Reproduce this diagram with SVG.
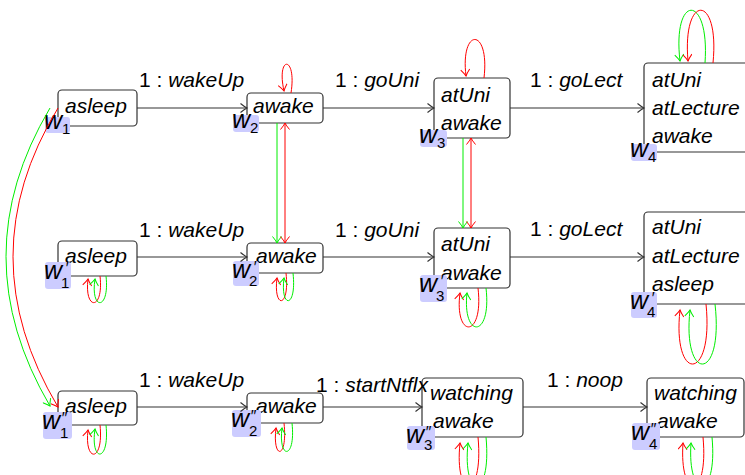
<svg xmlns="http://www.w3.org/2000/svg" width="745" height="475" viewBox="0 0 745 475">
<style>
.box{fill:#fff;stroke:#333;stroke-width:1.2}
.t{font-family:"Liberation Sans",Arial,sans-serif;font-size:21px;fill:#000}
.i{font-style:italic}
.bd{fill:#ccccff;stroke:none}
.w{font-family:"Liberation Sans",Arial,sans-serif;font-size:25px;font-style:italic;fill:#000}
.s{font-family:"Liberation Sans",Arial,sans-serif;font-size:15px;fill:#000}
.p{font-family:"Liberation Sans",Arial,sans-serif;font-size:16px;font-style:italic;fill:#000}
.k{fill:none;stroke:#333;stroke-width:1.1;marker-end:url(#ak)}
.r{fill:none;stroke:#ff0000;stroke-width:1;marker-end:url(#ar)}
.rr{fill:none;stroke:#ff0000;stroke-width:1;marker-end:url(#ar);marker-start:url(#ar)}
.g{fill:none;stroke:#00ee00;stroke-width:1;marker-end:url(#ag)}
</style>
<defs>
<marker id="ak" viewBox="-8 -5 10 10" refX="0" refY="0" markerWidth="10" markerHeight="10" markerUnits="userSpaceOnUse" orient="auto-start-reverse"><path d="M-6.5,-4.5 Q-2.5,-1.2 0,0 Q-2.5,1.2 -6.5,4.5" fill="none" stroke="#333" stroke-width="1.1"/></marker>
<marker id="ar" viewBox="-8 -5 10 10" refX="0" refY="0" markerWidth="10" markerHeight="10" markerUnits="userSpaceOnUse" orient="auto-start-reverse"><path d="M-6.5,-4.5 Q-2.5,-1.2 0,0 Q-2.5,1.2 -6.5,4.5" fill="none" stroke="#ff0000" stroke-width="1"/></marker>
<marker id="ag" viewBox="-8 -5 10 10" refX="0" refY="0" markerWidth="10" markerHeight="10" markerUnits="userSpaceOnUse" orient="auto-start-reverse"><path d="M-6.5,-4.5 Q-2.5,-1.2 0,0 Q-2.5,1.2 -6.5,4.5" fill="none" stroke="#00ee00" stroke-width="1"/></marker>
</defs>
<rect width="745" height="475" fill="#fff"/>

<g id="w1">
<rect class="box" x="58" y="90" width="79" height="36" rx="4"/>
<text class="t i" x="65" y="113">asleep</text>
<rect class="bd" x="45" y="117" width="25" height="16" rx="3"/>
<text class="w" x="44" y="129">w</text><text class="s" x="62" y="134">1</text>
</g>
<g id="w2">
<rect class="box" x="247" y="93" width="76" height="30" rx="4"/>
<text class="t i" x="253" y="113">awake</text>
<rect class="bd" x="233" y="115" width="26" height="17" rx="3"/>
<text class="w" x="232" y="128">w</text><text class="s" x="250" y="133">2</text>
</g>
<g id="w3">
<rect class="box" x="434" y="78" width="76" height="60" rx="4"/>
<text class="t i" x="441" y="102">atUni</text>
<text class="t i" x="441" y="130">awake</text>
<rect class="bd" x="420" y="130" width="27" height="17" rx="3"/>
<text class="w" x="419" y="143">w</text><text class="s" x="437" y="148">3</text>
</g>
<g id="w4">
<rect class="box" x="644" y="63" width="120" height="89" rx="4"/>
<text class="t i" x="652" y="87">atUni</text>
<text class="t i" x="652" y="115">atLecture</text>
<text class="t i" x="652" y="143">awake</text>
<rect class="bd" x="631" y="144" width="26" height="17" rx="3"/>
<text class="w" x="630" y="157">w</text><text class="s" x="648" y="162">4</text>
</g>

<g id="w1p">
<rect class="box" x="58" y="241" width="79" height="35" rx="4"/>
<text class="t i" x="65" y="263">asleep</text>
<rect class="bd" x="45" y="262" width="26" height="27" rx="3"/>
<text class="w" x="44" y="279">w</text><text class="p" x="65" y="274">′</text><text class="s" x="61" y="288">1</text>
</g>
<g id="w2p">
<rect class="box" x="247" y="243" width="76" height="30" rx="4"/>
<text class="t i" x="256" y="263">awake</text>
<rect class="bd" x="233" y="261" width="26" height="25" rx="3"/>
<text class="w" x="232" y="278">w</text><text class="p" x="253" y="273">′</text><text class="s" x="249" y="286">2</text>
</g>
<g id="w3p">
<rect class="box" x="434" y="228" width="76" height="60" rx="4"/>
<text class="t i" x="441" y="251">atUni</text>
<text class="t i" x="441" y="280">awake</text>
<rect class="bd" x="420" y="275" width="27" height="27" rx="3"/>
<text class="w" x="419" y="292">w</text><text class="p" x="440" y="287">′</text><text class="s" x="436" y="301">3</text>
</g>
<g id="w4p">
<rect class="box" x="644" y="212" width="120" height="92" rx="4"/>
<text class="t i" x="652" y="234">atUni</text>
<text class="t i" x="652" y="263">atLecture</text>
<text class="t i" x="652" y="291">asleep</text>
<rect class="bd" x="631" y="292" width="26" height="26" rx="3"/>
<text class="w" x="630" y="309">w</text><text class="p" x="651" y="304">′</text><text class="s" x="647" y="317">4</text>
</g>

<g id="w1pp">
<rect class="box" x="58" y="391" width="79" height="34" rx="4"/>
<text class="t i" x="65" y="413">asleep</text>
<rect class="bd" x="43" y="412" width="29" height="27" rx="3"/>
<text class="w" x="42" y="429">w</text><text class="p" x="61" y="424">″</text><text class="s" x="60" y="438">1</text>
</g>
<g id="w2pp">
<rect class="box" x="247" y="393" width="76" height="30" rx="4"/>
<text class="t i" x="256" y="413">awake</text>
<rect class="bd" x="232" y="410" width="29" height="27" rx="3"/>
<text class="w" x="231" y="427">w</text><text class="p" x="250" y="422">″</text><text class="s" x="249" y="436">2</text>
</g>
<g id="w3pp">
<rect class="box" x="422" y="378" width="101" height="59" rx="4"/>
<text class="t i" x="430" y="400">watching</text>
<text class="t i" x="433" y="428">awake</text>
<rect class="bd" x="407" y="426" width="28" height="24" rx="3"/>
<text class="w" x="406" y="443">w</text><text class="p" x="425" y="438">″</text><text class="s" x="424" y="450">3</text>
</g>
<g id="w4pp">
<rect class="box" x="647" y="378" width="97" height="59" rx="4"/>
<text class="t i" x="654" y="400">watching</text>
<text class="t i" x="657" y="428">awake</text>
<rect class="bd" x="632" y="423" width="28" height="27" rx="3"/>
<text class="w" x="631" y="440">w</text><text class="p" x="650" y="435">″</text><text class="s" x="649" y="449">4</text>
</g>

<g id="connectors">
<path class="k" d="M137 108 H247"/>
<path class="k" d="M323 108 H434"/>
<path class="k" d="M510 108 H644"/>
<path class="k" d="M137 257 H247"/>
<path class="k" d="M323 257 H434"/>
<path class="k" d="M510 257 H644"/>
<path class="k" d="M137 407 H247"/>
<path class="k" d="M323 407 H422"/>
<path class="k" d="M523 407 H647"/>
<text class="t" x="139" y="87">1 : <tspan class="i">wakeUp</tspan></text>
<text class="t" x="335" y="87">1 : <tspan class="i">goUni</tspan></text>
<text class="t" x="530" y="87">1 : <tspan class="i">goLect</tspan></text>
<text class="t" x="139" y="237">1 : <tspan class="i">wakeUp</tspan></text>
<text class="t" x="335" y="237">1 : <tspan class="i">goUni</tspan></text>
<text class="t" x="530" y="236">1 : <tspan class="i">goLect</tspan></text>
<text class="t" x="139" y="387">1 : <tspan class="i">wakeUp</tspan></text>
<text class="t" x="316" y="392">1 : <tspan class="i">startNtflx</tspan></text>
<text class="t" x="547" y="387">1 : <tspan class="i">noop</tspan></text>

<path class="g" d="M277 123 V243"/>
<path class="rr" d="M285 243 V123"/>
<path class="g" d="M463 138 V228"/>
<path class="rr" d="M471 228 V138"/>

<path class="g" d="M50 108 Q-38 256 50 406"/>
<path class="r" d="M58 108 Q-32 256 58 407"/>

<path class="r" d="M291 93 C297 55 276 55 284 91"/>
<path class="r" d="M484 78 C490 27 460 27 466 76"/>
<path class="g" d="M705 63 C710 -7 672 -7 680 61"/>
<path class="r" d="M713 63 C720 -7 682 -7 688 61"/>

<path class="r" d="M100 276 C104 311 84 311 88 279"/>
<path class="g" d="M106 276 C110 311 90 311 95 279"/>
<path class="r" d="M286 273 C290 309 273 309 277 278"/>
<path class="g" d="M293 273 C297 309 280 309 284 278"/>
<path class="r" d="M478 288 C484 339 454 339 460 293"/>
<path class="g" d="M486 288 C492 339 462 339 467 293"/>
<path class="r" d="M706 304 C714 383 672 383 680 310"/>
<path class="g" d="M715 304 C724 383 682 383 690 310"/>

<path class="r" d="M100 425 C104 463 84 463 88 430"/>
<path class="g" d="M106 425 C110 463 90 463 95 429"/>
<path class="r" d="M284 423 C288 460 272 460 276 428"/>
<path class="g" d="M292 423 C296 460 278 460 282 428"/>
<path class="r" d="M478 437 C484 501 454 501 460 443"/>
<path class="g" d="M486 437 C492 501 462 501 468 443"/>
<path class="r" d="M703 437 C709 501 679 501 683 443"/>
<path class="g" d="M712 437 C718 501 687 501 691 443"/>
</g>
</svg>
